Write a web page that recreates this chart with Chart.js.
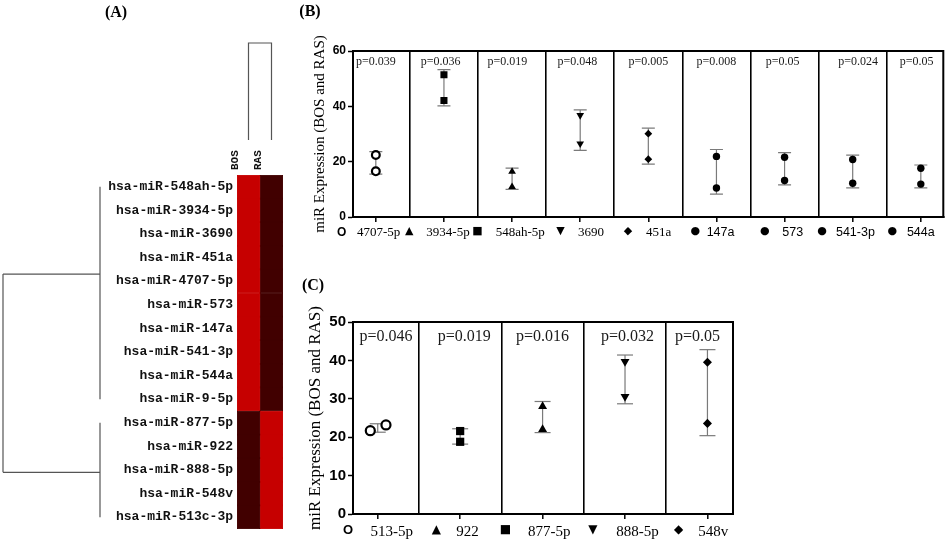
<!DOCTYPE html>
<html>
<head>
<meta charset="utf-8">
<script src="https://cdn.jsdelivr.net/npm/chart.js@4.4.1/dist/chart.umd.min.js"></script>
<style>
  body { margin: 0; background: #fff; }
  #wrap { position: relative; width: 951px; height: 543px; overflow: hidden; background: #fff; }
  canvas { position: absolute; }
  .tag { position: absolute; font: bold 16px "Liberation Serif", serif; transform: translate(-50%, -50%); color: #000; }
</style>
</head>
<body>
<div id="wrap">
  <canvas id="heat" width="300" height="543" style="left:0;top:0"></canvas>
  <canvas id="chartB" width="661" height="250" style="left:290px;top:0"></canvas>
  <canvas id="chartC" width="661" height="293" style="left:290px;top:250px"></canvas>
  <div class="tag" style="left:116px;top:12px">(A)</div>
  <div class="tag" style="left:310px;top:11px">(B)</div>
  <div class="tag" style="left:313px;top:285px">(C)</div>
</div>
<script>
// ---- (A) heatmap ----
const rowsA = ['hsa-miR-548ah-5p', 'hsa-miR-3934-5p', 'hsa-miR-3690', 'hsa-miR-451a',
  'hsa-miR-4707-5p', 'hsa-miR-573', 'hsa-miR-147a', 'hsa-miR-541-3p', 'hsa-miR-544a',
  'hsa-miR-9-5p', 'hsa-miR-877-5p', 'hsa-miR-922', 'hsa-miR-888-5p', 'hsa-miR-548v',
  'hsa-miR-513c-3p'];
const columnsA = ['BOS', 'RAS'];
const bosLevel = [1, 1, 1, 1, 1, 1, 1, 1, 1, 1, 0, 0, 0, 0, 0];
const rasLevel = [0, 0, 0, 0, 0, 0, 0, 0, 0, 0, 1, 1, 1, 1, 1];
// row clusters: first row, last row, row position of the branch
const clusterFirst = [0, 10];
const clusterLast = [9, 14];
const clusterNode = [3.7, 12.1];

// ---- (B) ----
const catsB = ['4707-5p', '3934-5p', '548ah-5p', '3690', '451a', '147a', '573', '541-3p', '544a'];
const upperB = [22.4, 51.4, 16.4, 36.8, 30.1, 21.9, 21.6, 20.8, 17.6];
const lowerB = [16.5, 42.1, 10.9, 26.5, 20.9, 10.5, 13.2, 12.2, 11.9];
const errHiB = [23.6, 53.3, 17.7, 38.7, 32.1, 24.4, 23.3, 22.4, 18.8];
const errLoB = [15.5, 40.2, 10.0, 24.1, 19.1, 8.3, 11.6, 10.5, 10.5];
const pValB = ['p=0.039', 'p=0.036', 'p=0.019', 'p=0.048', 'p=0.005', 'p=0.008', 'p=0.05', 'p=0.024', 'p=0.05'];
const yTicksB = [0, 20, 40, 60];

// ---- (C) ----
const catsC = ['513-5p', '922', '877-5p', '888-5p', '548v'];
const upperC = [23.2, 21.6, 28.0, 39.7, 39.5];
const lowerC = [21.7, 18.8, 22.0, 30.6, 23.6];
const errHiC = [23.5, 22.2, 29.3, 41.4, 42.8];
const errLoC = [21.3, 18.2, 21.2, 28.7, 20.4];
const pValC = ['p=0.046', 'p=0.019', 'p=0.016', 'p=0.032', 'p=0.05'];
const yTicksC = [0, 10, 20, 30, 40, 50];

// marker shapes, label symbols and label nudges (style only)
const markerB = ['ring', 'square', 'triangle', 'down', 'diamond', 'dot', 'dot', 'dot', 'dot'];
const symbolB = ['O', '▲', '■', '▼', '◆', '●', '●', '●', '●'];
const symbolShiftB = [-0.5, -0.51, -0.51, -0.29, -0.3, -0.31, -0.29, -0.45, -0.42];
const nameShiftB = [0.04, 0.06, 0.12, 0.16, 0.15, 0.06, 0.12, 0.04, 0];
const nameFontB = ['serif', 'serif', 'serif', 'serif', 'serif', 'sans', 'sans', 'sans', 'sans'];
const pShiftB = [0, -0.05, -0.07, -0.04, 0, 0, -0.03, 0.08, -0.06];
const markerC = ['ring', 'square', 'triangle', 'down', 'diamond'];
const symbolC = ['O', '▲', '■', '▼', '◆'];
const symbolShiftC = [-0.36, -0.29, -0.45, -0.39, -0.35];
const nameShiftC = [0.17, 0.09, 0.08, 0.15, 0.07];
const pShiftC = [0.1, 0.05, 0, 0.03, -0.12];
const jitterUpperC = [0.1, 0, 0, 0, 0];
const jitterLowerC = [-0.09, 0, 0, 0, 0];

Chart.defaults.animation = false;
Chart.defaults.plugins.legend.display = false;
Chart.defaults.plugins.tooltip.enabled = false;
Chart.defaults.color = '#000';

function heatColor(level) {
    return level ? '#c60000' : '#410000';
}

const dendroPlugin = {
    id: 'dendro',
    afterDraw(chart) {
        const { ctx, chartArea, scales: { x, y } } = chart;
        const leafX = 100, rootX = 3;
        ctx.save();
        ctx.strokeStyle = '#555';
        ctx.lineWidth = 1.2;
        ctx.beginPath();
        clusterFirst.forEach((first, k) => {
            const y1 = y.getPixelForValue(first), y2 = y.getPixelForValue(clusterLast[k]);
            const yn = y.getPixelForValue(clusterNode[k]);
            ctx.moveTo(leafX, y1); ctx.lineTo(leafX, y2);
            ctx.moveTo(leafX, yn); ctx.lineTo(rootX, yn);
        });
        ctx.moveTo(rootX, y.getPixelForValue(clusterNode[0]));
        ctx.lineTo(rootX, y.getPixelForValue(clusterNode[1]));
        // column tree
        const c1 = x.getPixelForValue(0.5), c2 = x.getPixelForValue(1.5);
        const low = chartArea.top - 35, high = chartArea.top - 132;
        ctx.moveTo(c1, low); ctx.lineTo(c1, high); ctx.lineTo(c2, high); ctx.lineTo(c2, low);
        ctx.stroke();
        ctx.restore();
    }
};

new Chart(document.getElementById('heat'), {
    type: 'bar',
    data: {
        labels: rowsA,
        datasets: [
            { label: columnsA[0], data: rowsA.map(() => [0, 1]), backgroundColor: bosLevel.map(heatColor),
              borderColor: bosLevel.map(heatColor), borderWidth: 0.5, grouped: false,
              barPercentage: 1, categoryPercentage: 1, borderSkipped: false },
            { label: columnsA[1], data: rowsA.map(() => [1, 2]), backgroundColor: rasLevel.map(heatColor),
              borderColor: rasLevel.map(heatColor), borderWidth: 0.5, grouped: false,
              barPercentage: 1, categoryPercentage: 1, borderSkipped: false }
        ]
    },
    options: {
        responsive: false,
        indexAxis: 'y',
        layout: { padding: { left: 0, right: 17, top: 0, bottom: 14 } },
        scales: {
            y: {
                ticks: { font: { family: 'Liberation Mono', weight: 'bold', size: 13 }, color: '#111', padding: 4 },
                grid: { display: false, drawTicks: false },
                border: { display: false },
                afterFit: s => { s.width = 237; }
            },
            x: {
                type: 'linear', position: 'top', min: 0, max: 2,
                afterBuildTicks: s => { s.ticks = [{ value: 0.5 }, { value: 1.5 }]; },
                ticks: {
                    autoSkip: false, minRotation: 90, maxRotation: 90, padding: 5,
                    font: { family: 'Liberation Mono', weight: 'bold', size: 11 }, color: '#111',
                    callback: (v, i) => columnsA[i]
                },
                grid: { display: false, drawTicks: false },
                border: { display: false },
                afterFit: s => { s.height = 175; }
            }
        }
    },
    plugins: [dendroPlugin]
});

// ---- dot panels ----
function markerProps(m) {
    switch (m) {
        case 'ring': return { style: 'circle', rot: 0, bg: '#fff', bw: 2.2, k: 1.05 };
        case 'square': return { style: 'rect', rot: 0, bg: '#000', bw: 0, k: 1.35 };
        case 'triangle': return { style: 'triangle', rot: 0, bg: '#000', bw: 0, k: 1.2 };
        case 'down': return { style: 'triangle', rot: 180, bg: '#000', bw: 0, k: 1.2 };
        case 'diamond': return { style: 'rectRot', rot: 0, bg: '#000', bw: 0, k: 1.05 };
        default: return { style: 'circle', rot: 0, bg: '#000', bw: 0, k: 1 };
    }
}

const panelPlugin = {
    id: 'panelFrame',
    afterDraw(chart) {
        const p = chart.options.plugins.panelFrame;
        const { ctx, chartArea: a, scales: { x, y } } = chart;
        ctx.save();
        ctx.strokeStyle = '#000';
        ctx.lineWidth = 2;
        ctx.strokeRect(a.left, a.top, a.right - a.left, a.bottom - a.top);
        ctx.fillStyle = '#1a1a1a';
        ctx.font = p.pFont;
        ctx.textAlign = 'center';
        ctx.textBaseline = 'middle';
        p.labels.forEach((t, i) => ctx.fillText(t, x.getPixelForValue(i + p.shift[i]), y.getPixelForValue(p.pY)));
        ctx.restore();
    }
};

function buildPanel(id, p) {
    const n = p.cats.length;
    const pts = [], st = [], rot = [], bg = [], bw = [], rad = [];
    for (let i = 0; i < n; i++) {
        const mp = markerProps(p.marker[i]);
        pts.push({ x: i + p.jitU[i], y: p.upper[i] }, { x: i + p.jitL[i], y: p.lower[i] });
        for (let k = 0; k < 2; k++) {
            st.push(mp.style); rot.push(mp.rot); bg.push(mp.bg); bw.push(mp.bw); rad.push(p.radius * mp.k);
        }
    }
    const datasets = [{
        data: pts, pointStyle: st, rotation: rot, pointBackgroundColor: bg,
        pointBorderColor: '#000', pointBorderWidth: bw, pointRadius: rad, order: 0
    }];
    for (let i = 0; i < n; i++) {
        datasets.push({
            data: [{ x: i, y: p.hi[i] }, { x: i, y: p.lo[i] }],
            showLine: true, borderColor: '#7a7a7a', borderWidth: 1.2,
            pointStyle: 'line', pointRadius: p.cap, pointBorderColor: '#7a7a7a', pointBorderWidth: 1.2, order: 1
        });
    }

    const tickList = [];
    for (let i = 0; i < n; i++) {
        tickList.push({ value: i, label: '', kind: 'mark' });
        tickList.push({ value: i + p.nameShift[i], label: p.cats[i], kind: 'name', font: p.nameFont[i] });
        tickList.push({ value: i + p.symShift[i], label: p.symbols[i], kind: 'sym' });
        if (i < n - 1) tickList.push({ value: i + 0.5, label: '', kind: 'div' });
    }
    tickList.sort((a, b) => a.value - b.value);
    const fontOf = t => {
        if (t.kind === 'sym') {
            return t.label === 'O' ? { family: 'Liberation Sans', size: p.symSize + 1, weight: 'bold' }
                : { family: 'DejaVu Sans', size: p.symSize, weight: 'bold' };
        }
        if (t.font === 'sans') return { family: 'Liberation Sans', size: p.nameSize - 0.5 };
        return { family: 'Liberation Serif', size: p.nameSize };
    };

    return new Chart(document.getElementById(id), {
        type: 'scatter',
        data: { datasets },
        options: {
            responsive: false,
            layout: { padding: p.padding },
            plugins: { panelFrame: { labels: p.pvals, shift: p.pShift, pY: p.pY, pFont: p.pFont } },
            scales: {
                x: {
                    type: 'linear', min: p.xMin, max: p.xMax,
                    afterBuildTicks: s => { s.ticks = tickList.map(t => ({ value: t.value })); },
                    afterFit: s => { s.height = p.xHeight; },
                    ticks: {
                        autoSkip: false, minRotation: 0, maxRotation: 0, padding: p.xPad, color: '#000',
                        callback: (v, i) => tickList[i].label,
                        font: ctx => fontOf(tickList[ctx.index] || tickList[0])
                    },
                    grid: {
                        color: ctx => (tickList[ctx.index] && tickList[ctx.index].kind === 'div') ? '#000' : 'rgba(0,0,0,0)',
                        lineWidth: 1.6,
                        tickColor: ctx => (tickList[ctx.index] && tickList[ctx.index].kind === 'mark') ? '#000' : 'rgba(0,0,0,0)',
                        tickWidth: 1.5, tickLength: 5
                    },
                    border: { display: true, color: '#000', width: 2 }
                },
                y: {
                    min: 0, max: p.yTicks[p.yTicks.length - 1],
                    afterBuildTicks: s => { s.ticks = p.yTicks.map(v => ({ value: v })); },
                    afterFit: s => { s.width = 63; },
                    ticks: { color: '#000', padding: 2, font: { family: 'Liberation Sans', weight: 'bold', size: p.ySize } },
                    grid: { drawOnChartArea: false, tickLength: 5, tickColor: '#000', tickWidth: 1.5 },
                    border: { color: '#000', width: 2 },
                    title: {
                        display: true, text: 'miR Expression (BOS and RAS)', color: '#000',
                        font: { family: 'Liberation Serif', size: p.titleSize },
                        padding: { top: p.titlePad, bottom: 0 }
                    }
                }
            }
        },
        plugins: [panelPlugin]
    });
}

buildPanel('chartB', {
    cats: catsB, upper: upperB, lower: lowerB, hi: errHiB, lo: errLoB, pvals: pValB, yTicks: yTicksB,
    marker: markerB, symbols: symbolB, symShift: symbolShiftB, nameShift: nameShiftB, nameFont: nameFontB,
    pShift: pShiftB, jitU: catsB.map(() => 0), jitL: catsB.map(() => 0),
    xMin: -0.335, xMax: 8.33, radius: 3.7, cap: 6.5,
    padding: { left: 0, right: 4, top: 51, bottom: 0 }, xHeight: 33, xPad: 3,
    nameSize: 13, symSize: 11, ySize: 12, titleSize: 15, titlePad: 21,
    pY: 56, pFont: '12px "Liberation Serif"'
});

buildPanel('chartC', {
    cats: catsC, upper: upperC, lower: lowerC, hi: errHiC, lo: errLoC, pvals: pValC, yTicks: yTicksC,
    marker: markerC, symbols: symbolC, symShift: symbolShiftC, nameShift: nameShiftC, nameFont: catsC.map(() => 'serif'),
    pShift: pShiftC, jitU: jitterUpperC, jitL: jitterLowerC,
    xMin: -0.3, xMax: 4.31, radius: 4.3, cap: 8,
    padding: { left: 0, right: 218, top: 72, bottom: 0 }, xHeight: 29, xPad: 4,
    nameSize: 15, symSize: 12, ySize: 15, titleSize: 17, titlePad: 15,
    pY: 46.2, pFont: '16px "Liberation Serif"'
});
</script>
</body>
</html>
